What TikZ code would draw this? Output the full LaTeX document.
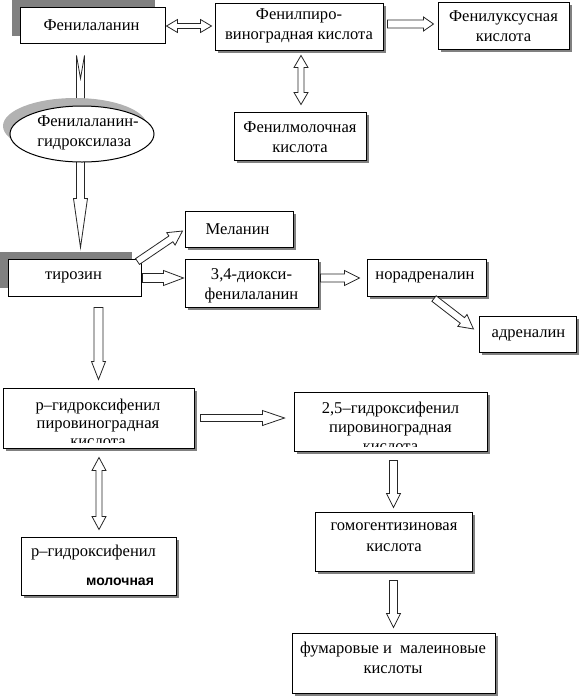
\documentclass[tikz,border=0pt]{standalone}
\usepackage{fontspec}
\setmainfont{Liberation Serif}
\newfontfamily\sansfnt{Liberation Sans}
\usetikzlibrary{calc,shapes.geometric}
\tikzset{
 boxshape/.style={draw=black, fill=white, line width=0.75pt, inner sep=0pt},
 boxshadow/.style={fill=black!50},
 bigshadow/.style={fill=black!50},
 ellshadow/.style={fill=black!30},
 blockarrow/.style={draw=black!85, fill=white, line width=0.6pt, line join=miter},
 lbl/.style={font=\fontsize{12.4}{15}\selectfont, align=center, inner sep=0pt},
}
\newcommand\pbox[6][]{%
 \fill[boxshadow] ({#3+3},{#4+3}) rectangle ({#5+3},{#6+3});
 \node[boxshape,#1,minimum width={(#5-#3)*0.75pt},minimum height={(#6-#4)*0.75pt}] (#2) at ({(#3+#5)/2},{(#4+#6)/2}) {};}
\newcommand\plainbox[5]{%
 \node[boxshape,minimum width={(#4-#2)*0.75pt},minimum height={(#5-#3)*0.75pt}] (#1) at ({(#2+#4)/2},{(#3+#5)/2}) {};}
\newcommand\BAprep[3]{%
 \path (#1); \pgfgetlastxy{\BAax}{\BAay}%
 \path (#2); \pgfgetlastxy{\BAbx}{\BAby}%
 \pgfmathsetmacro\BAang{atan2(\BAby-\BAay,\BAbx-\BAax)}%
 \pgfmathsetmacro\BAlen{veclen(\BAbx-\BAax,\BAby-\BAay)}}
% single block arrow: [opts]{from}{to}{shaft half}{head half}{head length}  (px)
\newcommand\barrow[6][]{%
 \BAprep{#2}{#3}{}%
 \pgfmathsetmacro\BAs{#4*0.75}\pgfmathsetmacro\BAh{#5*0.75}\pgfmathsetmacro\BAk{\BAlen-#6*0.75}%
 \begin{scope}[shift={(\BAax,\BAay)},rotate=\BAang]
 \draw[blockarrow,#1] (0pt,\BAs pt) -- (\BAk pt,\BAs pt) -- (\BAk pt,\BAh pt) -- (\BAlen pt,0pt) -- (\BAk pt,-\BAh pt) -- (\BAk pt,-\BAs pt) -- (0pt,-\BAs pt) -- cycle;
 \end{scope}}
% double block arrow
\newcommand\dbarrow[6][]{%
 \BAprep{#2}{#3}{}%
 \pgfmathsetmacro\BAs{#4*0.75}\pgfmathsetmacro\BAh{#5*0.75}\pgfmathsetmacro\BAj{#6*0.75}\pgfmathsetmacro\BAk{\BAlen-#6*0.75}%
 \begin{scope}[shift={(\BAax,\BAay)},rotate=\BAang]
 \draw[blockarrow,#1] (0pt,0pt) -- (\BAj pt,\BAh pt) -- (\BAj pt,\BAs pt) -- (\BAk pt,\BAs pt) -- (\BAk pt,\BAh pt) -- (\BAlen pt,0pt) -- (\BAk pt,-\BAh pt) -- (\BAk pt,-\BAs pt) -- (\BAj pt,-\BAs pt) -- (\BAj pt,-\BAh pt) -- cycle;
 \end{scope}}
\begin{document}
\begin{tikzpicture}[x=0.75pt,y=-0.75pt]
\useasboundingbox (0,0) rectangle (579,697);
% large grey shadows
\fill[bigshadow] (12,0) rectangle (155,36);
\fill[bigshadow] (0,252) rectangle (132,288);
% boxes
\plainbox{fen}{20}{7}{165}{43}
\pbox{fpv}{215}{3}{383}{50}
\pbox{fuk}{438}{2}{569}{49}
\pbox{fmk}{234}{112}{366}{160}
\pbox{mel}{185}{211}{293}{247}
\plainbox{tyr}{8}{259}{141}{296}
\pbox{dopa}{185}{259}{318}{307}
\pbox{nor}{367}{259}{486}{296}
\pbox{adr}{479}{316}{576}{352}
\pbox{php}{3}{388}{194}{448}
\pbox{p25}{294}{392}{487}{451}
\pbox{phl}{21}{537}{176}{595}
\pbox{hom}{315}{512}{472}{571}
\pbox{fum}{292}{633}{495}{693}
% labels
\node[lbl] (fen-t) at (91.5,25) {Фенилаланин};
\node[lbl] (fpv-t) at (299,25.5) {Фенилпиро-\\виноградная кислота};
\node[lbl] (fuk-t) at (503.5,26) {Фенилуксусная\\кислота};
\node[lbl] (fmk-t) at (300,137) {Фенилмолочная\\кислота};
\node[lbl] (mel-t) at (237.5,229) {Меланин};
\node[lbl] (tyr-t) at (73.5,277) {тирозин};
\node[lbl] (dopa-t) at (251.5,286) {3,4-диокси-\\фенилаланин};
\node[lbl] (nor-t) at (425,277) {норадреналин};
\node[lbl] (adr-t) at (528.5,335) {адреналин};
\begin{scope}
 \clip (3,388) rectangle (194,442.5);
 \node[lbl,font=\fontsize{12.4}{13.3}\selectfont] (php-t) at (98,423) {р–гидроксифенил\\пировиноградная\\кислота};
\end{scope}
\begin{scope}
 \clip (294,392) rectangle (487,446.5);
 \node[lbl,font=\fontsize{12.4}{14.3}\selectfont] (p25-t) at (390.5,426.5) {2,5–гидроксифенил\\пировиноградная\\кислота};
\end{scope}
\node[lbl] (phl-t) at (93.5,553) {р–гидроксифенил};
\node[lbl,font=\sansfnt\bfseries\fontsize{10.5}{12}\selectfont] (phl-t2) at (120,582) {молочная};
\node[lbl,font=\fontsize{12.4}{15.8}\selectfont] (hom-t) at (394,537.5) {гомогентизиновая\\кислота};
\node[lbl] (fum-t) at (393,658) {фумаровые и~ малеиновые\\кислоты};
% arrows
\dbarrow{$(fen.east)+(1,1)$}{$(fen.east -| fpv.west)+(-3,1)$}{2.5}{6.5}{11}
\barrow{$(fpv.east)+(4,-2.5)$}{$(fpv.east -| fuk.west)+(-4,-2.5)$}{4}{7}{10}
\dbarrow{$(fpv.south)+(2,5)$}{$(fpv.south |- fmk.north)+(2,-7)$}{3}{7}{12}
% long arrow with notched tail, partly hidden by the enzyme ellipse
\coordinate (a4s) at ($(fen.south)+(-12,12)$);
\coordinate (a4e) at ($(tyr.north -| a4s)+(0,-11)$);
\draw[blockarrow] ($(a4s)+(-4,0)$) -- ($(a4s)+(0,23)$) -- ($(a4s)+(4,0)$) -- ($(a4e)+(4,-49)$) -- ($(a4e)+(7,-49)$) -- (a4e) -- ($(a4e)+(-7,-49)$) -- ($(a4e)+(-4,-49)$) -- cycle;
\fill[ellshadow] (75,126) ellipse [x radius=54pt, y radius=21pt];
\node[draw=black, fill=white, line width=0.75pt, ellipse, minimum width=108pt, minimum height=42pt, inner sep=0pt] (ell) at (82,134) {};
\node[lbl,align=left] (ell-t) at (88,133) {Фенилаланин-\\гидроксилаза};
\barrow{$(tyr.north east)+(-4,3)$}{$(mel.west)+(-2,2)$}{3.5}{7.5}{14}
\barrow{$(tyr.east)+(1,0.5)$}{$(tyr.east -| dopa.west)+(-1,0.5)$}{4.5}{7.5}{20}
\barrow{$(dopa.east)+(2,-5)$}{$(dopa.east -| nor.west)+(-7,-5)$}{4}{7.5}{15}
\barrow{$(nor.south)+(7.5,2)$}{$(adr.west)+(-5,-5)$}{3.5}{7.5}{14}
\barrow{$(tyr.south -| php.north)+(0,11)$}{$(php.north)+(0,-8)$}{4.5}{7}{18}
\barrow{$(php.east)+(6,0)$}{$(php.east -| p25.west)+(-9,0)$}{3.5}{7.5}{22}
\dbarrow{$(php.south)+(0.5,9)$}{$(phl.north)+(0.5,-7)$}{3}{7}{13}
\barrow{$(p25.south -| hom.north)+(0,9)$}{$(hom.north)+(0,-4)$}{4}{7}{14}
\barrow{$(hom.south)+(0,9)$}{$(fum.north)+(0,-5)$}{4}{7}{14}
\end{tikzpicture}
\end{document}
